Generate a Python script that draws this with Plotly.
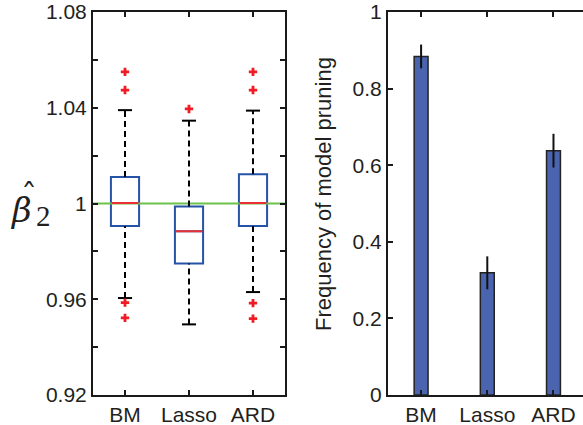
import plotly.graph_objects as go

# ---------------- data ----------------
categories = ["BM", "Lasso", "ARD"]

# left panel: box statistics of beta_2 estimates
q1 = [0.9906, 0.9749, 0.9906]
median = [1.0002, 0.9884, 1.0002]
q3 = [1.0111, 0.9987, 1.0122]
whisker_low = [0.9605, 0.9495, 0.9630]
whisker_high = [1.0390, 1.0346, 1.0388]
outliers = [[1.0550, 1.0474, 0.9586, 0.9522],
            [1.0395],
            [1.0550, 1.0474, 0.9584, 0.9519]]
true_value = 1.0

# right panel: frequency of model pruning
freq = [0.884, 0.319, 0.638]
freq_err = [0.031, 0.043, 0.044]

# ---------------- styles ----------------
font_tick = dict(family="Liberation Sans, Arial, sans-serif", size=21, color="#231f20")
axis_col = "#1a1a1a"
box_col = "#2553a8"
med_col = "#ea2f36"
green = "#6cc24a"
bar_col = "#4a64b0"
serif = "DejaVu Serif, Liberation Serif, serif"

pos = list(range(1, len(categories) + 1))
box_half = 0.22
cap_half = 0.11

fig = go.Figure()

# reference line
fig.add_trace(go.Scatter(x=[0.5, len(categories) + 0.5], y=[true_value, true_value],
                         mode="lines", line=dict(color=green, width=2),
                         xaxis="x", yaxis="y", showlegend=False, hoverinfo="skip"))

for i, p in enumerate(pos):
    # whiskers (dashed)
    fig.add_trace(go.Scatter(x=[p, p], y=[q3[i], whisker_high[i]], mode="lines",
                             line=dict(color="black", width=2, dash="6px,4px"),
                             showlegend=False, xaxis="x", yaxis="y"))
    fig.add_trace(go.Scatter(x=[p, p], y=[whisker_low[i], q1[i]], mode="lines",
                             line=dict(color="black", width=2, dash="6px,4px"),
                             showlegend=False, xaxis="x", yaxis="y"))
    # caps
    for w in (whisker_low[i], whisker_high[i]):
        fig.add_trace(go.Scatter(x=[p - cap_half, p + cap_half], y=[w, w], mode="lines",
                                 line=dict(color="black", width=2),
                                 showlegend=False, xaxis="x", yaxis="y"))
    # box
    fig.add_trace(go.Box(x=[p], q1=[q1[i]], median=[median[i]], q3=[q3[i]],
                         lowerfence=[q1[i]], upperfence=[q3[i]],
                         width=2 * box_half, line=dict(color=box_col, width=2),
                         fillcolor="rgba(255,255,255,0)", showlegend=False,
                         boxpoints=False, xaxis="x", yaxis="y"))
    # median
    fig.add_trace(go.Scatter(x=[p - box_half + 0.01, p + box_half - 0.01], y=[median[i], median[i]],
                             mode="lines", line=dict(color=med_col, width=2),
                             showlegend=False, xaxis="x", yaxis="y"))
    # outliers
    fig.add_trace(go.Scatter(x=[p] * len(outliers[i]), y=outliers[i], mode="markers",
                             marker=dict(symbol="cross", size=7, color="#f01c24"),
                             showlegend=False, xaxis="x", yaxis="y"))

# bars
fig.add_trace(go.Bar(x=pos, y=freq, width=0.21,
                     marker=dict(color=bar_col, line=dict(color="#222222", width=1.5)),
                     error_y=dict(type="data", array=freq_err, color="#111111",
                                  thickness=2, width=0),
                     showlegend=False, xaxis="x2", yaxis="y2"))

W, H = 583, 425
common_axis = dict(showline=True, linecolor=axis_col, linewidth=2, ticks="inside",
                   ticklen=5, tickwidth=1.5, tickcolor=axis_col, showgrid=False,
                   zeroline=False, tickfont=font_tick, automargin=False)

fig.update_layout(
    width=W, height=H,
    margin=dict(l=0, r=0, t=12, b=30),
    paper_bgcolor="white", plot_bgcolor="white",
    xaxis=dict(domain=[93 / W, 285 / W], range=[0.5, len(categories) + 0.5],
               tickvals=pos, ticktext=categories, mirror="ticks", **common_axis),
    yaxis=dict(range=[0.92, 1.08], tickvals=[0.92, 0.96, 1.0, 1.04, 1.08],
               ticktext=["0.92", "0.96", "1", "1.04", "1.08"], mirror="ticks",
               minor=dict(dtick=0.02, ticks="inside", ticklen=5, tickwidth=1.5,
                          tickcolor=axis_col, showgrid=False),
               **common_axis),
    xaxis2=dict(domain=[388 / W, 1.0], range=[0.5, 3.446], anchor="y2",
                tickvals=pos, ticktext=categories, mirror="ticks", **common_axis),
    yaxis2=dict(range=[0, 1], anchor="x2", tickvals=[0, 0.2, 0.4, 0.6, 0.8, 1.0],
                ticktext=["0", "0.2", "0.4", "0.6", "0.8", "1"], mirror=False,
                **common_axis),
    annotations=[
        dict(text="<i>β</i>", xref="paper", yref="paper", xanchor="left", yanchor="middle",
             x=8 / W, y=(395 - 210) / 383, showarrow=False,
             font=dict(family=serif, size=34, color="#231f20")),
        dict(text="2", xref="paper", yref="paper", xanchor="left", yanchor="middle",
             x=34 / W, y=(395 - 216) / 383, showarrow=False,
             font=dict(family="Liberation Serif, DejaVu Serif, serif", size=29, color="#231f20")),
        dict(text="ˆ", xref="paper", yref="paper", xanchor="center", yanchor="middle",
             x=29 / W, y=(395 - 196) / 383, showarrow=False,
             font=dict(family=serif, size=32, color="#231f20")),
        dict(text="Frequency of model pruning", xref="paper", yref="paper",
             x=323 / W, y=(395 - 194) / 383, textangle=-90, showarrow=False,
             xanchor="center", yanchor="middle",
             font=dict(family="Liberation Sans, Arial, sans-serif", size=22, color="#231f20")),
    ],
)

fig.write_html("out.html", config={"displayModeBar": False},
               post_script="document.body.style.margin='0';")
